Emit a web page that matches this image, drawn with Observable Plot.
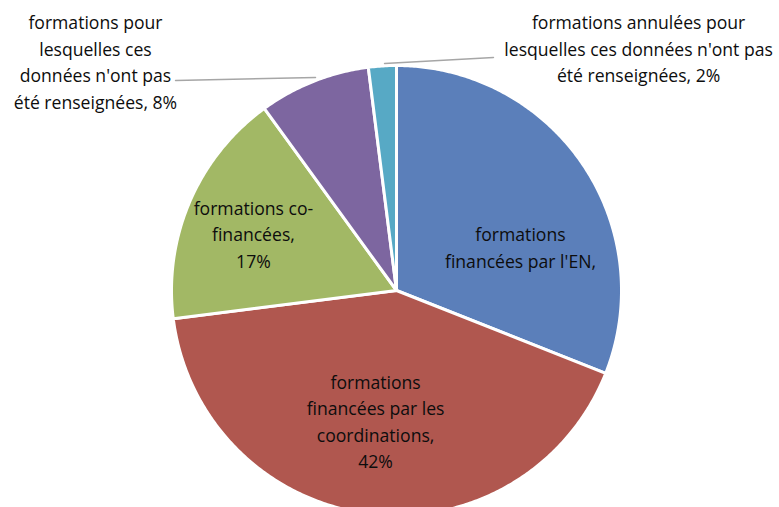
<!DOCTYPE html>
<html><head><meta charset="utf-8">
<script src="https://cdn.jsdelivr.net/npm/d3@7"></script>
<script src="https://cdn.jsdelivr.net/npm/@observablehq/plot@0.6"></script>
<style>body{margin:0;background:#fff}#chart svg{display:block}#chart text{font-variant-ligatures:none}</style>
</head><body><div id="chart"></div>
<script>
// ---- data ----
const categories = [
  "formations financées par l'EN",
  "formations financées par les coordinations",
  "formations co-financées",
  "formations pour lesquelles ces données n'ont pas été renseignées",
  "formations annulées pour lesquelles ces données n'ont pas été renseignées"
];
const values = [31, 42, 17, 8, 2];
const labels = [
  "formations\nfinancées par l'EN,",
  "formations\nfinancées par les\ncoordinations,\n42%",
  "formations co-\nfinancées,\n17%",
  "formations pour\nlesquelles ces\ndonnées n'ont pas\nété renseignées, 8%",
  "formations annulées pour\nlesquelles ces données n'ont pas\nété renseignées, 2%"
];
const colors = ["#5B7FBA", "#B0574F", "#A2B865", "#7D66A0", "#57A9C5"];

// ---- layout (radius units, y up) ----
const labelPos = [[0.551, 0.198], [-0.093, -0.576], [-0.636, 0.256], [-1.338, 1.022], [1.076, 1.082]];
const leaders = [
  [[-0.982, 0.933], [-0.36, 0.947]],
  [[-0.053, 1.009], [0.431, 1.036]]
];

const W = 779, H = 507, cx = 396, cy = 290, R = 225;
const arcs = d3.pie().sort(null).startAngle(0).endAngle(2 * Math.PI)(values);
const points = [];
arcs.forEach((a, i) => {
  points.push({cat: categories[i], x: 0, y: 0});
  const n = Math.max(2, Math.ceil((a.endAngle - a.startAngle) / (Math.PI / 360)));
  for (let k = 0; k <= n; k++) {
    const t = a.startAngle + (a.endAngle - a.startAngle) * k / n;
    points.push({cat: categories[i], x: Math.sin(t), y: Math.cos(t)});
  }
});
const labelData = labels.map((l, i) => ({text: l, x: labelPos[i][0], y: labelPos[i][1]}));
const leaderData = leaders.flatMap((seg, i) => seg.map(p => ({id: i, x: p[0], y: p[1]})));

const chart = Plot.plot({
  width: W, height: H,
  margin: 0,
  x: {domain: [-cx / R, (W - cx) / R], range: [0, W], axis: null},
  y: {domain: [-(H - cy) / R, cy / R], range: [H, 0], axis: null},
  color: {domain: categories, range: colors},
  style: {fontFamily: "'Open Sans', sans-serif", background: "#fff"},
  marks: [
    Plot.line(points, {x: "x", y: "y", z: "cat", fill: "cat", stroke: "#fff", strokeWidth: 3, strokeLinejoin: "round", curve: "linear-closed", clip: true}),
    Plot.line(leaderData, {x: "x", y: "y", z: "id", stroke: "#A6A6A6", strokeWidth: 1.5}),
    Plot.text(labelData, {x: "x", y: "y", text: "text", fontSize: 17.6, lineHeight: 1.5, fill: "#0d0d0d", textAnchor: "middle"})
  ]
});
document.getElementById("chart").appendChild(chart);
</script>
</body></html>
